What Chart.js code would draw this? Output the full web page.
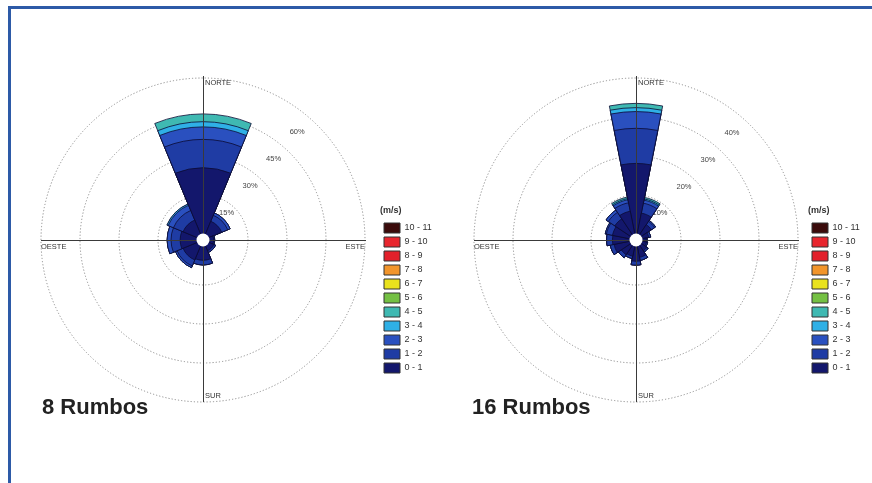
<!DOCTYPE html>
<html>
<head>
<meta charset="utf-8">
<script src="https://cdn.jsdelivr.net/npm/chart.js@4.4.1/dist/chart.umd.min.js"></script>
<style>
  html, body { margin: 0; padding: 0; background: #fff; overflow: hidden; }
  #page { position: relative; width: 872px; height: 483px; }
  #marco { position: absolute; left: 8px; top: 6px; width: 900px; height: 600px;
           border-top: 3px solid #2d5aa7; border-left: 3px solid #2d5aa7; }
  canvas { position: absolute; top: 0; }
  #c8 { left: 0; }
  #c16 { left: 432px; }
  .rumbos { position: absolute; top: 396px; font: bold 22px "Liberation Sans", Arial, sans-serif;
            line-height: 22px; color: #222; white-space: nowrap; }
</style>
</head>
<body>
<div id="page">
  <canvas id="c8" width="450" height="483"></canvas>
  <canvas id="c16" width="440" height="483"></canvas>
  <div class="rumbos" style="left:42px">8 Rumbos</div>
  <div class="rumbos" style="left:472px">16 Rumbos</div>
  <div id="marco"></div>
</div>
<script>
// clases de velocidad (m/s) y sus colores
const velocidades = ['0 - 1', '1 - 2', '2 - 3', '3 - 4', '4 - 5', '5 - 6', '6 - 7', '7 - 8', '8 - 9', '9 - 10', '10 - 11'];
const coloresVel = ['#13176c', '#1f3ca4', '#2a50bf', '#2fb0e6', '#3fb9b2', '#74c043', '#e9e21d', '#f2952b', '#e2202b', '#e8262e', '#3b0b0b'];
const puntosCardinales = ['NORTE', 'ESTE', 'SUR', 'OESTE'];

// 8 rumbos, frecuencia (%) por clase de velocidad
const rumbos8 = ['N', 'NE', 'E', 'SE', 'S', 'SW', 'W', 'NW'];
const r8_v0_1 = [25.5, 5.5, 1.8, 2.2, 5.5, 6.0, 6.5, 6.0];
const r8_v1_2 = [10.9, 2.5, 0.4, 0.7, 1.8, 2.5, 3.5, 4.0];
const r8_v2_3 = [4.8, 1.0, 0.0, 0.0, 0.0, 0.7, 1.5, 2.2];
const r8_v3_4 = [2.0, 0.0, 0.0, 0.0, 0.0, 0.0, 0.0, 0.5];
const r8_v4_5 = [3.0, 0.0, 0.0, 0.0, 0.0, 0.0, 0.0, 0.0];
const anillos8 = [15, 30, 45, 60];

// 16 rumbos
const rumbos16 = ['N', 'NNE', 'NE', 'ENE', 'E', 'ESE', 'SE', 'SSE', 'S', 'SSW', 'SW', 'WSW', 'W', 'WNW', 'NW', 'NNW'];
const r16_v0_1 = [18.1, 5.5, 3.2, 1.8, 1.1, 1.2, 1.8, 3.0, 3.9, 2.7, 3.0, 4.2, 4.5, 4.6, 5.0, 6.0];
const r16_v1_2 = [9.0, 2.6, 1.0, 0.5, 0.2, 0.3, 0.4, 0.8, 1.0, 0.6, 0.9, 1.0, 1.5, 1.6, 2.0, 2.2];
const r16_v2_3 = [4.3, 0.8, 0.3, 0.0, 0.0, 0.0, 0.0, 0.0, 0.0, 0.0, 0.0, 0.0, 0.0, 0.3, 0.7, 0.8];
const r16_v3_4 = [1.0, 0.3, 0.0, 0.0, 0.0, 0.0, 0.0, 0.0, 0.0, 0.0, 0.0, 0.0, 0.0, 0.0, 0.0, 0.3];
const r16_v4_5 = [1.1, 0.4, 0.0, 0.0, 0.0, 0.0, 0.0, 0.0, 0.0, 0.0, 0.0, 0.0, 0.0, 0.0, 0.0, 0.4];
const anillos16 = [10, 20, 30, 40];

const fuente = '"Liberation Sans", Arial, sans-serif';

// each petal is stacked: draw cumulative sums, smallest on top
function acumulado(series) {
    const suma = series[0].map(() => 0);
    return series.map(s => s.map((v, i) => (suma[i] += v)));
}

// axes cross, centre hole, cardinal names and % labels
const roseDecor = {
    id: 'roseDecor',
    beforeDatasetsDraw(chart, args, opts) {
        const s = chart.scales.r, ctx = chart.ctx;
        const r0 = s.getDistanceFromCenterForValue(0);
        const a = opts.angulo * Math.PI / 180;
        ctx.save();
        ctx.font = '7.5px ' + fuente;
        ctx.fillStyle = '#444';
        ctx.textAlign = 'center';
        ctx.textBaseline = 'middle';
        s.ticks.forEach(t => {
            const d = 0.92 * (s.getDistanceFromCenterForValue(t.value) - r0);
            ctx.fillText(t.label, s.xCenter + d * Math.sin(a), s.yCenter - d * Math.cos(a));
        });
        ctx.restore();
    },
    afterDatasetsDraw(chart) {
        const s = chart.scales.r, ctx = chart.ctx;
        const cx = s.xCenter, cy = s.yCenter, R = s.drawingArea;
        ctx.save();
        ctx.strokeStyle = '#3a3a3a';
        ctx.lineWidth = 1;
        ctx.beginPath();
        ctx.moveTo(cx + 0.5, cy - R - 2);
        ctx.lineTo(cx + 0.5, cy + R);
        ctx.moveTo(cx - R, cy + 0.5);
        ctx.lineTo(cx + R + 1, cy + 0.5);
        ctx.stroke();
        ctx.fillStyle = '#fff';
        ctx.beginPath();
        ctx.arc(cx, cy, s.getDistanceFromCenterForValue(0) + 0.5, 0, 2 * Math.PI);
        ctx.fill();
        ctx.font = '7.5px ' + fuente;
        ctx.fillStyle = '#333';
        ctx.textBaseline = 'middle';
        ctx.textAlign = 'left';
        ctx.fillText(puntosCardinales[0], cx + 2, cy - R + 5);
        ctx.fillText(puntosCardinales[2], cx + 2, cy + R - 6);
        ctx.fillText(puntosCardinales[3], cx - R, cy + 7);
        ctx.textAlign = 'right';
        ctx.fillText(puntosCardinales[1], cx + R, cy + 7);
        ctx.restore();
    }
};

function createRose(canvasId, rumbos, series, anillos, minR, angulo, padding) {
    const cum = acumulado(series);
    return new Chart(document.getElementById(canvasId), {
        type: 'polarArea',
        data: {
            labels: rumbos,
            datasets: cum.map((data, i) => ({
                label: velocidades[i],
                data: data,
                backgroundColor: coloresVel[i],
                borderColor: '#0b0b33',
                borderWidth: 0.8
            }))
        },
        options: {
            responsive: false,
            animation: false,
            events: [],
            layout: { padding: padding },
            scales: {
                r: {
                    min: minR,
                    max: anillos[anillos.length - 1],
                    bounds: 'data',
                    startAngle: -180 / rumbos.length,
                    afterBuildTicks: s => { s.ticks = anillos.map(v => ({ value: v })); },
                    ticks: { display: false, callback: v => v + '%' },
                    grid: { color: '#8c8c8c', lineWidth: 1 },
                    border: { dash: [1.2, 2] },
                    angleLines: { display: false },
                    pointLabels: { display: false }
                }
            },
            plugins: {
                roseDecor: { angulo: angulo },
                tooltip: { enabled: false },
                legend: {
                    position: 'right',
                    align: 'start',
                    maxWidth: 56,
                    title: {
                        display: true,
                        text: '(m/s)',
                        position: 'start',
                        color: '#333',
                        font: { size: 9, weight: 'bold', family: fuente },
                        padding: { top: 128.5, bottom: 1.7 }
                    },
                    labels: {
                        boxWidth: 16,
                        boxHeight: 10,
                        padding: 4,
                        color: '#333',
                        font: { size: 9, family: fuente },
                        generateLabels: () => velocidades.map((v, i) => ({
                            text: v,
                            fillStyle: coloresVel[i],
                            strokeStyle: '#333',
                            lineWidth: 1,
                            hidden: false,
                            index: i
                        })).reverse()
                    }
                }
            }
        },
        plugins: [roseDecor]
    });
}

createRose('c8', rumbos8, [r8_v0_1, r8_v1_2, r8_v2_3, r8_v3_4, r8_v4_5], anillos8, -2.3, 41,
    { left: 26, top: 78, bottom: 81, right: 14 });
createRose('c16', rumbos16, [r16_v0_1, r16_v1_2, r16_v2_3, r16_v3_4, r16_v4_5], anillos16, -1.54, 42,
    { left: 32, top: 78, bottom: 81, right: 8 });
</script>
</body>
</html>
